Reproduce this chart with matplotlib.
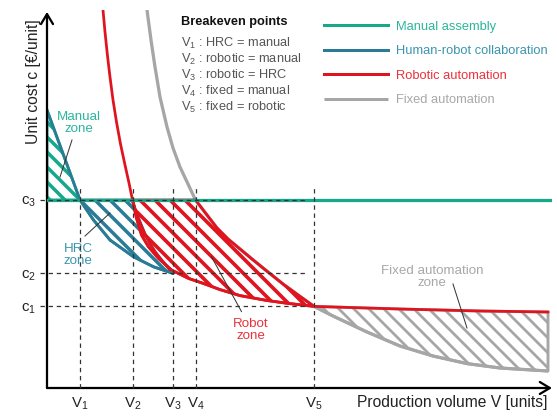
import matplotlib
matplotlib.use("Agg")
import matplotlib.pyplot as plt
from matplotlib.patches import Polygon
import numpy as np

plt.rcParams['font.family'] = ['Liberation Sans', 'DejaVu Sans']
plt.rcParams['mathtext.default'] = 'regular'

# breakeven volumes and cost levels (arbitrary units)
V1, V2, V3, V4, V5 = 6.6, 17.1, 25.1, 29.7, 53.4
c1, c2, c3 = 20.4, 28.7, 47.0

# human-robot collaboration cost curve
hrc_x = [0, 6.6, 9.3, 12.6, 17.3, 21.3, 25.1]
hrc_y = [69.5, 47, 42, 37, 32.8, 30.3, 28.7]

# right edge of the HRC zone (between V2 and V3)
edge_x = [17.1, 17.8, 18.6, 19.6, 20.6, 21.6, 22.6, 23.6, 25.1]
edge_y = [47, 44, 41.5, 38.5, 36.1, 34.1, 32.5, 31, 28.7]

# robotic automation cost curve
rob_x = [11.2, 11.6, 12.1, 12.6, 13.2, 13.9, 14.7, 15.6, 16.4, 17.1,
         17.9, 18.9, 20.3, 22.3, 24.9, 28.3, 31.6, 34.6, 38.6, 43.9,
         47.9, 53.4, 70.6, 86.6, 100.2]
rob_y = [94.5, 89, 83, 77.75, 72, 66.5, 61, 55.75, 51.25, 47,
         42.5, 38.25, 35.3, 32.4, 29.5, 27.4, 26, 24.6, 23.1, 21.9,
         21.2, 20.4, 19.75, 19.25, 19.0]

# fixed automation cost curve
fix_x = [20, 20.8, 21.6, 22.6, 24, 25.2, 26.6, 28.2, 29.7,
         32, 34, 36.2, 38.6, 41, 43.6, 47.2, 50.6, 53.4,
         57.2, 64, 70.6, 77.2, 84, 90.6, 100.2]
fix_y = [94.5, 87, 80.25, 72.75, 65.25, 60, 55.25, 51, 47,
         43.25, 40, 37.25, 34.75, 32.25, 29.6, 26, 22.9, 20.4,
         18, 14, 10.5, 8, 6.1, 5, 4.25]

teal, teal_txt = '#17a88b', '#2bb59c'
blue, blue_txt = '#2a7c96', '#3b95ad'
red, red_txt = '#e0141e', '#e8333c'
grey, grey_txt = '#a6a6a6', '#a8a8a8'

fig = plt.figure(figsize=(557 / 90, 417 / 90), dpi=90)
ax = fig.add_axes([47 / 557, 29 / 417, 505 / 557, 378 / 417])
ax.set_xlim(0, 101)
ax.set_ylim(0, 94.5)
for s in ax.spines.values():
    s.set_visible(False)

hx, hy = np.array(hrc_x), np.array(hrc_y)
rx, ry = np.array(rob_x), np.array(rob_y)
fx, fy = np.array(fix_x), np.array(fix_y)
ex, ey = np.array(edge_x), np.array(edge_y)


def zone(pts, color, hlw):
    plt.rcParams['hatch.linewidth'] = hlw
    p = Polygon(pts, closed=True, facecolor='none', edgecolor=color,
                hatch='\\\\', lw=2.3, zorder=2, joinstyle='round')
    ax.add_patch(p)


# manual zone
m = hx <= V1
zone(np.column_stack([np.r_[hx[m], 0], np.r_[hy[m], c3]]), teal, 2.8)
# HRC zone
m = hx >= V1
zone(np.column_stack([np.r_[ex, hx[m][::-1]], np.r_[ey, hy[m][::-1]]]), blue, 2.8)
# robot zone
mf = (fx >= V4) & (fx <= V5)
mr = (rx >= V2) & (rx <= V5)
zone(np.column_stack([np.r_[fx[mf], rx[mr][::-1]], np.r_[fy[mf], ry[mr][::-1]]]), red, 2.9)
# fixed automation zone
mf = fx >= V5
mr = rx >= V5
zone(np.column_stack([np.r_[rx[mr], fx[mf][::-1]], np.r_[ry[mr], fy[mf][::-1]]]), grey, 2.2)

# cost curves
l_fix, = ax.plot(fx, fy, color=grey, lw=2.6, zorder=1.5, solid_capstyle='butt')
ax.plot(ex, ey, color=red, lw=2.0, zorder=3)
l_rob, = ax.plot(rx, ry, color=red, lw=2.2, zorder=3)
l_hrc, = ax.plot(hx, hy, color=blue, lw=2.2, zorder=3)
l_man = ax.axhline(c3, color=teal, lw=2.6, zorder=4)

# dashed guides
dash = dict(color='#333333', lw=1.0, ls=(0, (3.5, 3)), zorder=5, clip_on=False)
for c in (c1, c2, c3):
    ax.plot([-1.4, 52], [c, c], **dash)
for v in (V1, V2, V3, V4, V5):
    ax.plot([v, v], [0, 50.3], **dash)

# axes with arrows
arr = dict(arrowstyle='->,head_length=0.5,head_width=0.3', lw=1.8, color='black',
           shrinkA=0, shrinkB=0, mutation_scale=16)
ax.annotate('', xy=(1.0, 0), xytext=(0, 0), xycoords='axes fraction', arrowprops=arr)
ax.annotate('', xy=(0, 0.995), xytext=(0, 0), xycoords='axes fraction', arrowprops=arr)

ax.set_xticks([V1, V2, V3, V4, V5], labels=['V$_1$', 'V$_2$', 'V$_3$', 'V$_4$', 'V$_5$'])
ax.set_yticks([c1, c2, c3], labels=['c$_1$', 'c$_2$', 'c$_3$'])
ax.tick_params(axis='x', length=0, labelsize=12, pad=6, colors='#222222')
ax.tick_params(axis='y', length=0, labelsize=12, pad=9, colors='#222222')

ax.set_xlabel('Production volume V [units]', fontsize=12.5, color='#222222',
              ha='center', va='center')
ax.xaxis.set_label_coords(0.802, -0.038)
ax.set_ylabel('Unit cost c [€/unit]', fontsize=12.5, color='#222222',
              ha='center', va='center')
ax.yaxis.set_label_coords(-0.026, 0.81)

# breakeven list
ax.text(26.8, 91.5, 'Breakeven points', fontsize=10.2, fontweight='bold',
        color='#111111', ha='left', va='center')
entries = ['V$_1$ : HRC = manual', 'V$_2$ : robotic = manual', 'V$_3$ : robotic = HRC',
           'V$_4$ : fixed = manual', 'V$_5$ : fixed = robotic']
for i, t in enumerate(entries):
    ax.text(26.8, 86.2 - 4.0 * i, t, fontsize=10.2, color='#555555',
            ha='left', va='center')

# legend
leg = ax.legend([l_man, l_hrc, l_rob, l_fix],
                ['Manual assembly', 'Human-robot collaboration',
                 'Robotic automation', 'Fixed automation'],
                loc='upper left', bbox_to_anchor=(0.5485, 0.972), frameon=False,
                fontsize=10.3, handlelength=4.95, handletextpad=0.62,
                labelspacing=0.98, borderpad=0, borderaxespad=0)
for txt, c in zip(leg.get_texts(), [teal_txt, blue_txt, red_txt, grey_txt]):
    txt.set_color(c)
for ln in leg.get_lines():
    ln.set_linewidth(2.4)

# zone labels
lab = dict(fontsize=10.7, ha='center', va='center', linespacing=1.05)
ax.text(6.4, 66.25, 'Manual\nzone', color=teal_txt, **lab)
ax.plot([5.0, 2.6], [62, 52.75], color='#333333', lw=0.8, zorder=6)
ax.text(6.2, 33.25, 'HRC\nzone', color=blue_txt, **lab)
ax.plot([7.6, 12.6], [38, 43.75], color='#333333', lw=0.8, zorder=6)
ax.text(40.8, 14.5, 'Robot\nzone', color=red_txt, **lab)
ax.plot([38.9, 32.9], [19.1, 32.8], color='#333333', lw=0.8, zorder=6)
ax.text(77, 27.75, 'Fixed automation\nzone', color=grey_txt, **lab)
ax.plot([81.2, 84], [26, 15], color='#333333', lw=0.8, zorder=6)

fig.savefig('out.png', dpi=90)
